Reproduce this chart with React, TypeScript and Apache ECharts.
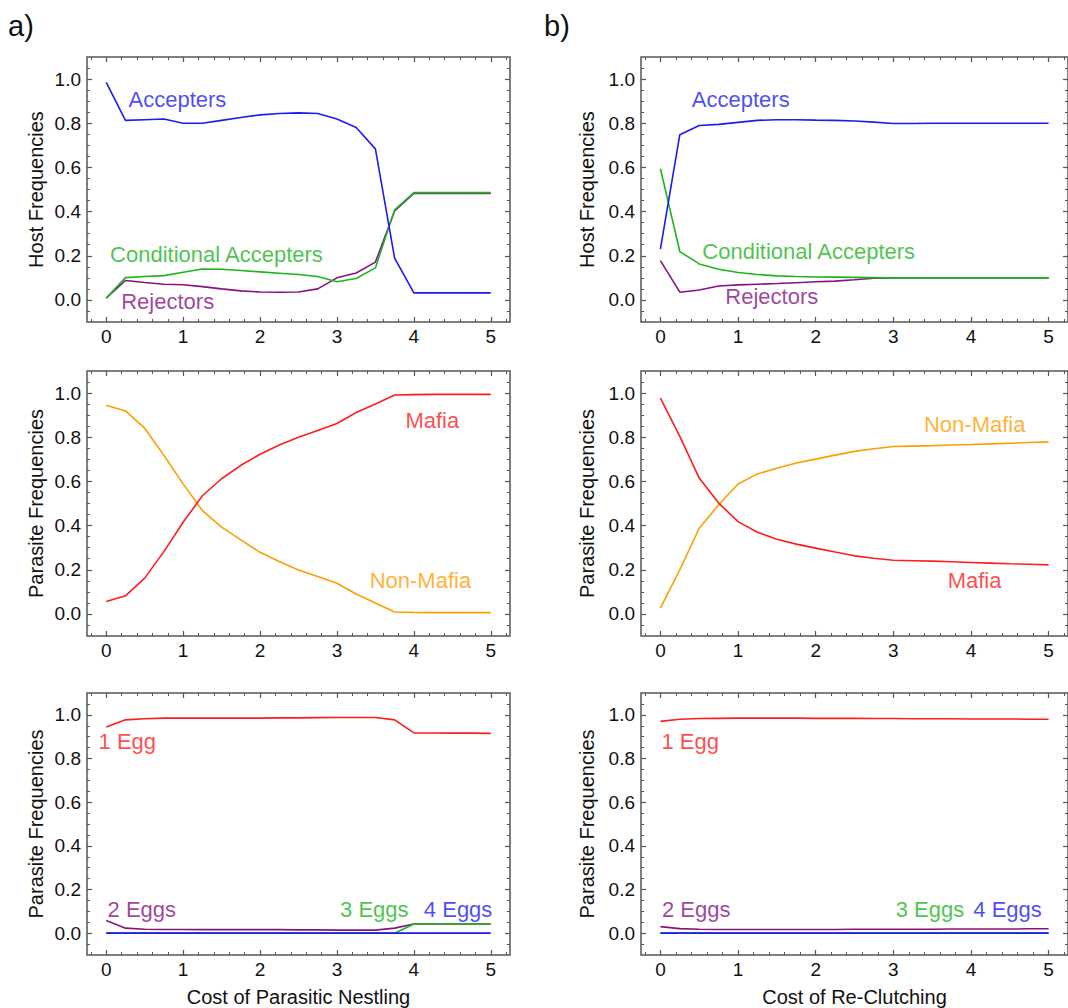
import React, { useEffect, useRef } from "react";
import * as echarts from "echarts";

const cost = [0, 0.25, 0.5, 0.75, 1, 1.25, 1.5, 1.75, 2, 2.25, 2.5, 2.75, 3, 3.25, 3.5, 3.75, 4, 4.25, 4.5, 4.75, 5];

// Panel a (Cost of Parasitic Nestling)
const aAccepters = [0.985, 0.813, 0.816, 0.819, 0.8, 0.8, 0.813, 0.826, 0.838, 0.844, 0.847, 0.844, 0.819, 0.781, 0.684, 0.189, 0.032, 0.032, 0.032, 0.032, 0.032];
const aConditional = [0.008, 0.101, 0.106, 0.11, 0.125, 0.14, 0.139, 0.133, 0.127, 0.121, 0.115, 0.106, 0.082, 0.097, 0.145, 0.408, 0.486, 0.486, 0.486, 0.486, 0.486];
const aRejectors = [0.008, 0.088, 0.079, 0.071, 0.069, 0.06, 0.05, 0.041, 0.036, 0.035, 0.036, 0.05, 0.1, 0.122, 0.171, 0.403, 0.482, 0.482, 0.482, 0.482, 0.482];
const aMafia = [0.056, 0.082, 0.162, 0.282, 0.415, 0.535, 0.612, 0.673, 0.723, 0.765, 0.8, 0.831, 0.862, 0.912, 0.951, 0.991, 0.993, 0.994, 0.994, 0.994, 0.994];
const aNonMafia = [0.945, 0.919, 0.841, 0.718, 0.589, 0.468, 0.393, 0.335, 0.279, 0.237, 0.199, 0.169, 0.139, 0.09, 0.049, 0.009, 0.007, 0.006, 0.006, 0.006, 0.006];
const a1Egg = [0.944, 0.977, 0.982, 0.985, 0.985, 0.985, 0.985, 0.985, 0.985, 0.986, 0.986, 0.987, 0.988, 0.988, 0.988, 0.977, 0.917, 0.917, 0.916, 0.916, 0.915];
const a2Eggs = [0.058, 0.023, 0.018, 0.017, 0.017, 0.016, 0.016, 0.016, 0.016, 0.016, 0.015, 0.015, 0.014, 0.014, 0.014, 0.023, 0.042, 0.042, 0.042, 0.042, 0.042];
const a3Eggs = [0, 0, 0, 0, 0, 0, 0, 0, 0, 0, 0, 0, 0, 0, 0, 0, 0.042, 0.042, 0.042, 0.042, 0.042];
const a4Eggs = [0, 0, 0, 0, 0, 0, 0, 0, 0, 0, 0, 0, 0, 0, 0, 0, 0, 0, 0, 0, 0];

// Panel b (Cost of Re-Clutching)
const bAccepters = [0.23, 0.748, 0.79, 0.795, 0.804, 0.813, 0.816, 0.816, 0.814, 0.813, 0.81, 0.805, 0.799, 0.799, 0.8, 0.8, 0.8, 0.8, 0.8, 0.8, 0.8];
const bConditional = [0.594, 0.219, 0.163, 0.139, 0.124, 0.115, 0.109, 0.106, 0.104, 0.103, 0.102, 0.101, 0.1, 0.1, 0.1, 0.1, 0.1, 0.1, 0.1, 0.1, 0.1];
const bRejectors = [0.178, 0.035, 0.045, 0.063, 0.068, 0.071, 0.074, 0.078, 0.082, 0.085, 0.091, 0.098, 0.1, 0.1, 0.1, 0.1, 0.1, 0.1, 0.1, 0.1, 0.1];
const bMafia = [0.977, 0.804, 0.615, 0.502, 0.418, 0.37, 0.338, 0.316, 0.298, 0.28, 0.263, 0.252, 0.243, 0.241, 0.239, 0.236, 0.233, 0.23, 0.227, 0.225, 0.222];
const bNonMafia = [0.026, 0.2, 0.388, 0.494, 0.588, 0.634, 0.66, 0.683, 0.701, 0.719, 0.736, 0.748, 0.758, 0.76, 0.762, 0.765, 0.767, 0.77, 0.773, 0.776, 0.779];
const b1Egg = [0.97, 0.98, 0.983, 0.984, 0.985, 0.985, 0.985, 0.985, 0.984, 0.984, 0.984, 0.983, 0.983, 0.982, 0.982, 0.982, 0.981, 0.981, 0.981, 0.98, 0.98];
const b2Eggs = [0.03, 0.021, 0.018, 0.017, 0.017, 0.017, 0.017, 0.017, 0.017, 0.017, 0.018, 0.018, 0.018, 0.018, 0.018, 0.019, 0.019, 0.019, 0.019, 0.02, 0.02];
const b3Eggs = [0, 0, 0, 0, 0, 0, 0, 0, 0, 0, 0, 0, 0, 0, 0, 0, 0, 0, 0, 0, 0];
const b4Eggs = [0, 0, 0, 0, 0, 0, 0, 0, 0, 0, 0, 0, 0, 0, 0, 0, 0, 0, 0, 0, 0];

const xMajorTicks = [0, 1, 2, 3, 4, 5];
const xMinorTicks = [-0.2, 0.2, 0.4, 0.6, 0.8, 1.2, 1.4, 1.6, 1.8, 2.2, 2.4, 2.6, 2.8, 3.2, 3.4, 3.6, 3.8, 4.2, 4.4, 4.6, 4.8, 5.2];
const yMajorTicks = [0, 0.2, 0.4, 0.6, 0.8, 1.0];
const yMinorTicks = [-0.05, 0.05, 0.1, 0.15, 0.25, 0.3, 0.35, 0.45, 0.5, 0.55, 0.65, 0.7, 0.75, 0.85, 0.9, 0.95, 1.05];

const panelLabels = ["a)", "b)"];
const xTitles = ["Cost of Parasitic Nestling", "Cost of Re-Clutching"];
const yTitles = ["Host Frequencies", "Parasite Frequencies", "Parasite Frequencies"];

const C = {
  blue: "#1c1cf2",
  green: "#1cb51c",
  purple: "#861286",
  red: "#ff1c1c",
  orange: "#ff9d00",
};

type Line = { name: string; values: number[]; color: string };
type Note = { text: string; x: number; y: number; color: string };

const panelLines: Line[][] = [
  [
    { name: "Rejectors", values: aRejectors, color: C.purple },
    { name: "Conditional Accepters", values: aConditional, color: C.green },
    { name: "Accepters", values: aAccepters, color: C.blue },
  ],
  [
    { name: "Non-Mafia", values: aNonMafia, color: C.orange },
    { name: "Mafia", values: aMafia, color: C.red },
  ],
  [
    { name: "1 Egg", values: a1Egg, color: C.red },
    { name: "2 Eggs", values: a2Eggs, color: C.purple },
    { name: "3 Eggs", values: a3Eggs, color: C.green },
    { name: "4 Eggs", values: a4Eggs, color: C.blue },
  ],
  [
    { name: "Rejectors", values: bRejectors, color: C.purple },
    { name: "Conditional Accepters", values: bConditional, color: C.green },
    { name: "Accepters", values: bAccepters, color: C.blue },
  ],
  [
    { name: "Non-Mafia", values: bNonMafia, color: C.orange },
    { name: "Mafia", values: bMafia, color: C.red },
  ],
  [
    { name: "1 Egg", values: b1Egg, color: C.red },
    { name: "2 Eggs", values: b2Eggs, color: C.purple },
    { name: "3 Eggs", values: b3Eggs, color: C.green },
    { name: "4 Eggs", values: b4Eggs, color: C.blue },
  ],
];

const panelNotes: Note[][] = [
  [
    { text: "Accepters", x: 0.29, y: 0.906, color: C.blue },
    { text: "Conditional Accepters", x: 0.05, y: 0.204, color: C.green },
    { text: "Rejectors", x: 0.195, y: -0.009, color: C.purple },
  ],
  [
    { text: "Mafia", x: 3.89, y: 0.874, color: C.red },
    { text: "Non-Mafia", x: 3.425, y: 0.151, color: C.orange },
  ],
  [
    { text: "1 Egg", x: -0.1, y: 0.879, color: C.red },
    { text: "2 Eggs", x: 0.017, y: 0.11, color: C.purple },
    { text: "3 Eggs", x: 3.04, y: 0.11, color: C.green },
    { text: "4 Eggs", x: 4.13, y: 0.11, color: C.blue },
  ],
  [
    { text: "Accepters", x: 0.405, y: 0.906, color: C.blue },
    { text: "Conditional Accepters", x: 0.54, y: 0.217, color: C.green },
    { text: "Rejectors", x: 0.836, y: 0.014, color: C.purple },
  ],
  [
    { text: "Non-Mafia", x: 3.395, y: 0.856, color: C.orange },
    { text: "Mafia", x: 3.7, y: 0.151, color: C.red },
  ],
  [
    { text: "1 Egg", x: 0.013, y: 0.879, color: C.red },
    { text: "2 Eggs", x: 0.02, y: 0.11, color: C.purple },
    { text: "3 Eggs", x: 3.03, y: 0.11, color: C.green },
    { text: "4 Eggs", x: 4.03, y: 0.11, color: C.blue },
  ],
];

const FONT = "'Liberation Sans', Arial, Helvetica, sans-serif";
const FRAME = "#555555";

const gridBoxes = [
  { left: 87, top: 57, width: 423, height: 265 },
  { left: 87, top: 371, width: 423, height: 265 },
  { left: 87, top: 693, width: 423, height: 263 },
  { left: 641, top: 57, width: 430, height: 265 },
  { left: 641, top: 371, width: 430, height: 265 },
  { left: 641, top: 693, width: 430, height: 263 },
];

function buildOption() {
  const grid: any[] = [];
  const xAxis: any[] = [];
  const yAxis: any[] = [];
  const series: any[] = [];

  gridBoxes.forEach((b, gi) => {
    const col = gi < 3 ? 0 : 1;
    const row = gi % 3;
    grid.push({
      ...b,
      show: true,
      borderColor: FRAME,
      borderWidth: 1.5,
      backgroundColor: "transparent",
      containLabel: false,
    });
    const xBase = {
      type: "value",
      gridIndex: gi,
      min: -0.25,
      max: 5.25,
      axisLine: { show: false, onZero: false },
      splitLine: { show: false },
    };
    const yBase = {
      type: "value",
      gridIndex: gi,
      min: -0.1,
      max: 1.1,
      axisLine: { show: false, onZero: false },
      splitLine: { show: false },
    };
    const xStart = xAxis.length;
    const yStart = yAxis.length;
    xAxis.push({
      ...xBase,
      position: "bottom",
      name: row === 2 ? xTitles[col] : "",
      nameLocation: "middle",
      nameGap: 32,
      nameTextStyle: { fontFamily: FONT, fontSize: 20, color: "#111" },
      axisTick: { show: true, inside: true, length: 5, customValues: xMajorTicks, lineStyle: { color: FRAME, width: 1.2 } },
      axisLabel: {
        show: true,
        customValues: xMajorTicks,
        margin: 5,
        fontFamily: FONT,
        fontSize: 19,
        color: "#111",
        formatter: (v: number) => String(Math.round(v)),
      },
    });
    xAxis.push({
      ...xBase,
      position: "bottom",
      axisTick: { show: true, inside: true, length: 3, customValues: xMinorTicks, lineStyle: { color: FRAME, width: 1 } },
      axisLabel: { show: false },
    });
    xAxis.push({
      ...xBase,
      position: "top",
      axisTick: { show: true, inside: true, length: 5, customValues: xMajorTicks, lineStyle: { color: FRAME, width: 1.2 } },
      axisLabel: { show: false },
    });
    xAxis.push({
      ...xBase,
      position: "top",
      axisTick: { show: true, inside: true, length: 3, customValues: xMinorTicks, lineStyle: { color: FRAME, width: 1 } },
      axisLabel: { show: false },
    });
    yAxis.push({
      ...yBase,
      position: "left",
      name: yTitles[row],
      nameLocation: "middle",
      nameGap: col === 0 ? 41 : 44,
      nameTextStyle: { fontFamily: FONT, fontSize: 20, color: "#111" },
      axisTick: { show: true, inside: true, length: 5, customValues: yMajorTicks, lineStyle: { color: FRAME, width: 1.2 } },
      axisLabel: {
        show: true,
        customValues: yMajorTicks,
        margin: 6,
        fontFamily: FONT,
        fontSize: 19,
        color: "#111",
        formatter: (v: number) => v.toFixed(1),
      },
    });
    yAxis.push({
      ...yBase,
      position: "left",
      axisTick: { show: true, inside: true, length: 3, customValues: yMinorTicks, lineStyle: { color: FRAME, width: 1 } },
      axisLabel: { show: false },
    });
    yAxis.push({
      ...yBase,
      position: "right",
      axisTick: { show: true, inside: true, length: 5, customValues: yMajorTicks, lineStyle: { color: FRAME, width: 1.2 } },
      axisLabel: { show: false },
    });
    yAxis.push({
      ...yBase,
      position: "right",
      axisTick: { show: true, inside: true, length: 3, customValues: yMinorTicks, lineStyle: { color: FRAME, width: 1 } },
      axisLabel: { show: false },
    });

    panelLines[gi].forEach((ln) => {
      series.push({
        type: "line",
        name: ln.name,
        xAxisIndex: xStart,
        yAxisIndex: yStart,
        data: cost.map((c, i) => [c, ln.values[i]]),
        showSymbol: false,
        symbol: "none",
        lineStyle: { color: ln.color, width: 1.6 },
        itemStyle: { color: ln.color },
        silent: true,
      });
    });
    series.push({
      type: "scatter",
      xAxisIndex: xStart,
      yAxisIndex: yStart,
      symbolSize: 0,
      silent: true,
      data: panelNotes[gi].map((n) => ({
        value: [n.x, n.y],
        label: {
          show: true,
          position: "right",
          distance: 0,
          formatter: n.text,
          color: n.color,
          fontFamily: FONT,
          fontSize: 22,
        },
      })),
    });
  });

  const graphic = [
    { type: "text", left: 8, top: 11, style: { text: panelLabels[0], fontFamily: FONT, fontSize: 29, fill: "#111" } },
    { type: "text", left: 544, top: 11, style: { text: panelLabels[1], fontFamily: FONT, fontSize: 29, fill: "#111" } },
  ];

  return {
    animation: false,
    backgroundColor: "#ffffff",
    textStyle: { fontFamily: FONT },
    grid,
    xAxis,
    yAxis,
    series,
    graphic,
  };
}

export default function App() {
  const ref = useRef<HTMLDivElement>(null);
  useEffect(() => {
    if (!ref.current) return;
    const chart = echarts.init(ref.current, undefined, { renderer: "svg" });
    chart.setOption(buildOption() as any);
    return () => chart.dispose();
  }, []);
  return (
    <div
      ref={ref}
      style={{ position: "fixed", left: 0, top: 0, width: 1068, height: 1008, background: "#fff" }}
    />
  );
}
